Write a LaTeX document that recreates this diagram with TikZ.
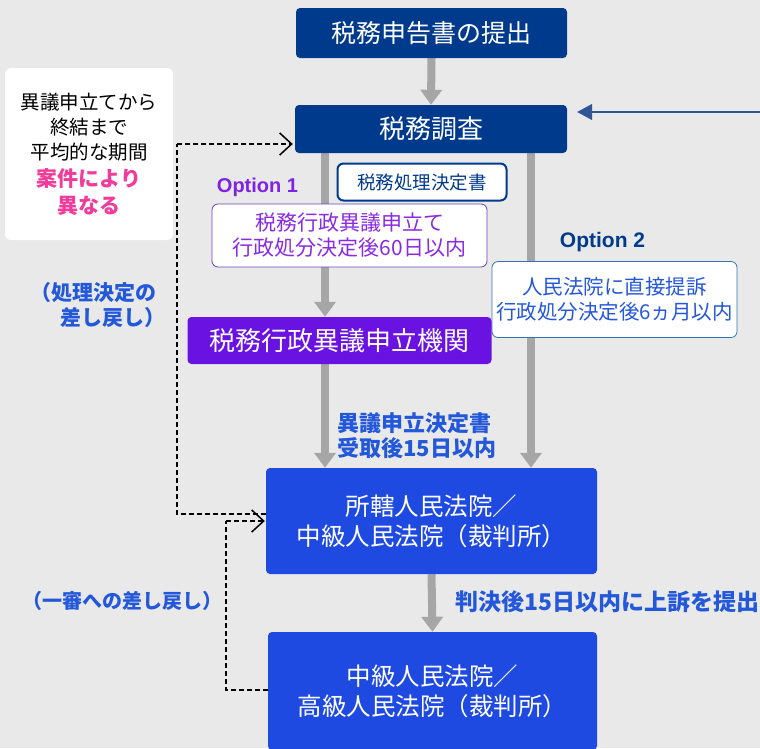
\documentclass[tikz,border=0pt]{standalone}
\usepackage{fontspec}
\setmainfont{Noto Sans CJK JP}
\newfontfamily\optfont{Liberation Sans}
\usetikzlibrary{arrows.meta,calc}
\definecolor{bgc}{HTML}{E9E9E9}
\definecolor{navy}{HTML}{003A8C}
\definecolor{purp}{HTML}{6A12E2}
\definecolor{purptxt}{HTML}{8A2BE2}
\definecolor{purpline}{HTML}{6E3FC0}
\definecolor{courtblue}{HTML}{1F4AE2}
\definecolor{lblblue}{HTML}{2358DA}
\definecolor{boxblue}{HTML}{2E75B6}
\definecolor{txtblue}{HTML}{2457DD}
\definecolor{pinkc}{HTML}{F23C9C}
\definecolor{grayarr}{HTML}{A6A6A6}
\definecolor{optpurp}{HTML}{7F22E6}
\definecolor{inarrow}{HTML}{2F5597}
\pgfdeclarelayer{bg}
\pgfsetlayers{bg,main}
\tikzset{
  solidbox/.style={rounded corners=4pt, inner sep=0pt, align=center, text=white},
  navybox/.style={solidbox, fill=navy},
  courtbox/.style={solidbox, fill=courtblue, font=\fontsize{24.5}{30}\selectfont},
  outlinebox/.style={rounded corners=6pt, fill=white, inner sep=0pt, align=center},
  grayarrow/.style={draw=grayarr, line width=8pt, -{Triangle[width=21pt,length=15pt]}},
  dasharrow/.style={draw=black, line width=1.2pt, dash pattern=on 5pt off 3pt, -{Straight Barb[length=12pt,width=22pt,line width=1.5pt]}},
  dashline/.style={draw=black, line width=1.2pt, dash pattern=on 5pt off 3pt},
  bluelabel/.style={text=lblblue, font=\bfseries\fontsize{21}{25}\selectfont, inner sep=0pt, align=center},
  optlabel/.style={font=\optfont\bfseries\fontsize{20}{24}\selectfont, inner sep=0pt}
}
\begin{document}
\begin{tikzpicture}[x=1pt,y=-1pt]
\begin{pgfonlayer}{bg}
\fill[bgc] (0,0) rectangle (760,748);
\end{pgfonlayer}
\useasboundingbox (0,0) rectangle (760,748);

% main boxes
\node[navybox, minimum width=271pt, minimum height=50pt, font=\fontsize{25}{30}\selectfont] (shinkoku) at (431.5,33) {税務申告書の提出};
\node[navybox, minimum width=272pt, minimum height=48pt, font=\fontsize{26}{30}\selectfont] (chosa) at (431,129) {税務調査};
\node[outlinebox, draw=navy, line width=2pt, minimum width=169pt, minimum height=37pt, text=navy, font=\fontsize{18.5}{22}\selectfont] (ketteisho) at (422,182) {税務処理決定書};
\node[outlinebox, draw=purpline, line width=0.8pt, minimum width=275pt, minimum height=63pt, text=purptxt, font=\fontsize{21}{25}\selectfont] (igi) at (349.5,235.5) {税務行政異議申立て\\行政処分決定後60日以内};
\node[outlinebox, draw=boxblue, line width=0.8pt, minimum width=245pt, minimum height=76pt, text=txtblue, font=\fontsize{20.5}{25}\selectfont] (teiso) at (614.5,299.5) {人民法院に直接提訴\\行政処分決定後6ヵ月以内};
\node[solidbox, fill=purp, minimum width=304pt, minimum height=47pt, font=\fontsize{26}{30}\selectfont] (kikan) at (339.5,340.5) {税務行政異議申立機関};
\node[courtbox, minimum width=331pt, minimum height=106pt] (court1) at (431.5,521) {所轄人民法院／\\中級人民法院（裁判所）};
\node[courtbox, minimum width=329pt, minimum height=118pt] (court2) at (432.5,691) {中級人民法院／\\高級人民法院（裁判所）};

% note box
\node[rounded corners=6pt, fill=white, inner sep=0pt, minimum width=168pt, minimum height=172pt, align=center, font=\fontsize{19.5}{25}\selectfont] (note) at (89,154)
 {異議申立てから\\終結まで\\平均的な期間\\[2pt]{\color{pinkc}\bfseries\fontsize{21}{27}\selectfont 案件により}\\[2pt]{\color{pinkc}\bfseries\fontsize{21}{27}\selectfont 異なる}};

% labels
\node[optlabel, text=optpurp] (opt1) at (257.5,187) {Option 1};
\node[optlabel, text=navy, font=\optfont\bfseries\fontsize{21}{24}\selectfont] (opt2) at (602.5,242) {Option 2};
\node[bluelabel, anchor=west, align=left, font=\bfseries\fontsize{22}{25}\selectfont] (lbl1) at (337,436) {異議申立決定書\\受取後15日以内};
\node[bluelabel, anchor=west, font=\bfseries\fontsize{23}{25}\selectfont] (lbl2) at (455,602) {判決後15日以内に上訴を提出};
\node[bluelabel, anchor=west, align=left] (lbl3) at (30,305) {（処理決定の\\\hspace*{30pt}差し戻し）};
\node[bluelabel, font=\bfseries\fontsize{20}{25}\selectfont] (lbl4) at (122,601) {（一審への差し戻し）};

% coordinates
\coordinate (xl) at (325,0);
\coordinate (xr) at (531,0);
\coordinate (rin) at (762,112);
\coordinate (d1b) at (177,514);
\coordinate (d1c) at (177,144);
\coordinate (d2b) at (226,690);
\coordinate (d2c) at (226,521);

% gray arrows
\begin{pgfonlayer}{bg}
\draw[grayarrow] (shinkoku.south) -- (chosa.north);
\draw[grayarrow] (chosa.south -| xl) -- (kikan.north -| xl);
\draw[grayarrow] (chosa.south -| xr) -- (court1.north -| xr);
\draw[grayarrow] (kikan.south -| xl) -- (court1.north -| xl);
\draw[grayarrow] (court1.south) -- (court2.north);
\end{pgfonlayer}

% incoming blue arrow
\draw[draw=inarrow, line width=1.3pt, -{Triangle[width=16pt,length=15pt]}, shorten >=10pt] (rin) -- (chosa.east |- rin);

% dashed return paths
\draw[dashline] (court1.west |- d1b) -- (d1b) -- (d1c);
\draw[dasharrow, shorten >=2pt] (d1c) -- (chosa.west |- d1c);
\draw[dashline] (court2.west |- d2b) -- (d2b) -- (d2c);
\draw[dasharrow, shorten >=1pt] (d2c) -- (court1.west |- d2c);
\end{tikzpicture}
\end{document}
